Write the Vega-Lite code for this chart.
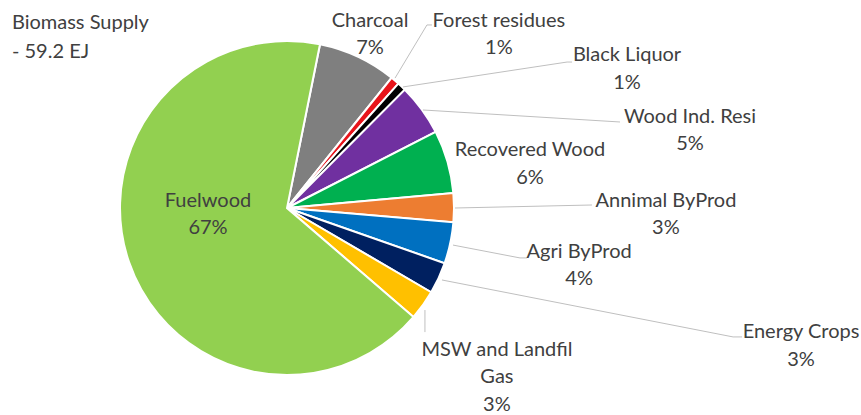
{
  "$schema": "https://vega.github.io/schema/vega-lite/v6.json",
  "width": 861,
  "height": 415,
  "autosize": {"type": "none"},
  "padding": 0,
  "background": "white",
  "config": {"view": {"stroke": null}},
  "datasets": {
    "supply": [
      {"source": "Charcoal", "share": 7.6, "order": 1},
      {"source": "Forest residues", "share": 0.85, "order": 2},
      {"source": "Black Liquor", "share": 0.85, "order": 3},
      {"source": "Wood Ind. Resi", "share": 5.0, "order": 4},
      {"source": "Recovered Wood", "share": 6.1, "order": 5},
      {"source": "Annimal ByProd", "share": 2.8, "order": 6},
      {"source": "Agri ByProd", "share": 4.0, "order": 7},
      {"source": "Energy Crops", "share": 3.05, "order": 8},
      {"source": "MSW and Landfil Gas", "share": 2.9, "order": 9},
      {"source": "Fuelwood", "share": 66.85, "order": 10}
    ],
    "labels": [
      {"label": "Charcoal\n7%", "u": 49.7, "v": 112.0},
      {"label": "Forest residues\n1%", "u": 126.9, "v": 112.0},
      {"label": "Black Liquor\n1%", "u": 203.6, "v": 91.6},
      {"label": "Wood  Ind. Resi\n5%", "u": 241.3, "v": 54.5},
      {"label": "Recovered Wood\n6%", "u": 145.5, "v": 34.7},
      {"label": "Annimal  ByProd\n3%", "u": 226.9, "v": 4.2},
      {"label": "Agri ByProd\n4%", "u": 174.9, "v": -26.3},
      {"label": "Energy Crops\n3%", "u": 307.8, "v": -74.3},
      {"label": "MSW and Landfil\nGas\n3%", "u": 125.7, "v": -85.0},
      {"label": "Fuelwood\n67%", "u": -47.3, "v": 4.2}
    ],
    "title": [
      {"label": "Biomass Supply\n- 59.2 EJ", "u": -164.7, "v": 110.8}
    ],
    "leaders": [
      {"id": "Forest residues", "seq": 1, "u": 64.7, "v": 77.8},
      {"id": "Forest residues", "seq": 2, "u": 83.8, "v": 109.6},
      {"id": "Forest residues", "seq": 3, "u": 86.8, "v": 109.6},
      {"id": "Black Liquor", "seq": 1, "u": 69.5, "v": 72.5},
      {"id": "Black Liquor", "seq": 2, "u": 167.7, "v": 87.4},
      {"id": "Black Liquor", "seq": 3, "u": 170.7, "v": 87.4},
      {"id": "Wood Ind. Resi", "seq": 1, "u": 81.4, "v": 58.7},
      {"id": "Wood Ind. Resi", "seq": 2, "u": 199.4, "v": 51.5},
      {"id": "Annimal ByProd", "seq": 1, "u": 100.6, "v": 0.0},
      {"id": "Annimal ByProd", "seq": 2, "u": 182.6, "v": 1.8},
      {"id": "Agri ByProd", "seq": 1, "u": 99.4, "v": -22.2},
      {"id": "Agri ByProd", "seq": 2, "u": 139.5, "v": -29.9},
      {"id": "Agri ByProd", "seq": 3, "u": 143.7, "v": -29.9},
      {"id": "Energy Crops", "seq": 1, "u": 92.8, "v": -43.1},
      {"id": "Energy Crops", "seq": 2, "u": 267.1, "v": -77.2},
      {"id": "Energy Crops", "seq": 3, "u": 272.5, "v": -77.2},
      {"id": "MSW and Landfil Gas", "seq": 1, "u": 82.6, "v": -61.1},
      {"id": "MSW and Landfil Gas", "seq": 2, "u": 82.6, "v": -74.3}
    ]
  },
  "layer": [
    {
      "data": {"name": "supply"},
      "mark": {"type": "arc", "radius": 167, "stroke": "white", "strokeWidth": 2},
      "encoding": {
        "theta": {"field": "share", "type": "quantitative", "stack": true, "scale": {"range": [0.199, 6.482]}},
        "order": {"field": "order", "type": "quantitative"},
        "color": {
          "field": "source", "type": "nominal", "legend": null,
          "scale": {
            "domain": ["Charcoal", "Forest residues", "Black Liquor", "Wood Ind. Resi", "Recovered Wood", "Annimal ByProd", "Agri ByProd", "Energy Crops", "MSW and Landfil Gas", "Fuelwood"],
            "range": ["#7f7f7f", "#e8141b", "#000000", "#7030a0", "#00b050", "#ed7d31", "#0070c0", "#002060", "#ffc000", "#92d050"]
          }
        },
        "x": {"datum": 0, "type": "quantitative", "scale": {"domain": [-171.86, 343.71], "nice": false, "zero": false}, "axis": null},
        "y": {"datum": 0, "type": "quantitative", "scale": {"domain": [-123.95, 124.55], "nice": false, "zero": false}, "axis": null}
      }
    },
    {
      "data": {"name": "leaders"},
      "mark": {"type": "line", "color": "#bfbfbf", "strokeWidth": 1},
      "encoding": {
        "x": {"field": "u", "type": "quantitative"},
        "y": {"field": "v", "type": "quantitative"},
        "detail": {"field": "id", "type": "nominal"},
        "order": {"field": "seq", "type": "quantitative"}
      }
    },
    {
      "data": {"name": "labels"},
      "mark": {"type": "text", "font": "Lato", "fontSize": 20, "color": "#404040", "lineBreak": "\n", "lineHeight": 27.5, "baseline": "middle", "align": "center"},
      "encoding": {
        "x": {"field": "u", "type": "quantitative"},
        "y": {"field": "v", "type": "quantitative"},
        "text": {"field": "label", "type": "nominal"}
      }
    },
    {
      "data": {"name": "title"},
      "mark": {"type": "text", "font": "Lato", "fontSize": 20, "color": "#404040", "lineBreak": "\n", "lineHeight": 29, "baseline": "middle", "align": "left"},
      "encoding": {
        "x": {"field": "u", "type": "quantitative"},
        "y": {"field": "v", "type": "quantitative"},
        "text": {"field": "label", "type": "nominal"}
      }
    }
  ]
}
